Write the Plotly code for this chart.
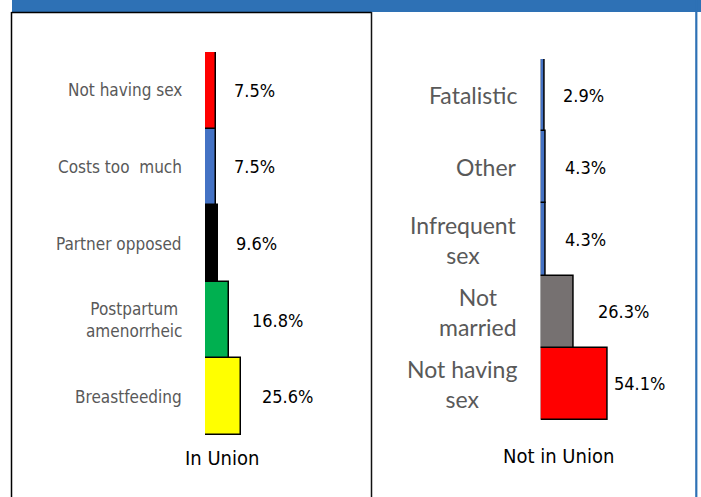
import plotly.graph_objects as go

W, H = 701, 497

# In union (bottom to top)
union_cats = ["Breastfeeding", "Postpartum<br>amenorrheic", "Partner opposed",
              "Costs too  much", "Not having sex"]
union_vals = [25.6, 16.8, 9.6, 7.5, 7.5]
union_colors = ["#FFFF00", "#00B050", "#000000", "#4472C4", "#FF0000"]
union_pad = [19, 21, 16, 16, 16]

# Not in union (bottom to top)
notunion_cats = ["Not having<br>sex", "Not<br>married", "Infrequent<br>sex",
                 "Other", "Fatalistic"]
notunion_vals = [54.1, 26.3, 4.3, 4.3, 2.9]
notunion_colors = ["#FF0000", "#767171", "#4472C4", "#4472C4", "#4472C4"]
notunion_pad = [4, 23, 17, 17, 17]


def px(x):
    return x / W


def py(y):
    return 1 - y / H


fig = go.Figure()
fig.add_trace(go.Bar(
    x=union_vals, y=union_cats, orientation="h",
    marker=dict(color=union_colors, line=dict(color="black", width=1.5)),
    xaxis="x", yaxis="y", showlegend=False, hoverinfo="x+y"))
fig.add_trace(go.Bar(
    x=notunion_vals, y=notunion_cats, orientation="h",
    marker=dict(color=notunion_colors, line=dict(color="black", width=1.5)),
    xaxis="x2", yaxis="y2", showlegend=False, hoverinfo="x+y"))

narrow = "DejaVu Sans Condensed, Roboto, sans-serif"
label_font = dict(family=narrow, size=17, color="#595959")
value_font = dict(family=narrow, size=18, color="#000000")
right_font = dict(family="Lato", size=23, color="#595959")

ann = []
for c, v, p in zip(union_cats, union_vals, union_pad):
    ann.append(dict(xref="paper", yref="y", x=px(184), y=c, text=c,
                    xanchor="right", align="center", showarrow=False, font=label_font))
    ann.append(dict(xref="x", yref="y", x=v, y=c, text=f"{v}%", xshift=p,
                    xanchor="left", showarrow=False, font=value_font))
for c, v, p in zip(notunion_cats, notunion_vals, notunion_pad):
    ann.append(dict(xref="paper", yref="y2", x=px(519), y=c, text=c,
                    xanchor="right", align="center", showarrow=False, font=right_font))
    ann.append(dict(xref="x2", yref="y2", x=v, y=c, text=f"{v}%", xshift=p,
                    xanchor="left", showarrow=False, font=value_font))

ann.append(dict(xref="paper", yref="paper", x=px(222), y=py(458), text="In Union",
                xanchor="center", yanchor="middle", showarrow=False,
                font=dict(family=narrow, size=20, color="#000")))
ann.append(dict(xref="paper", yref="paper", x=px(558), y=py(456), text="Not in Union",
                xanchor="center", yanchor="middle", showarrow=False,
                font=dict(family=narrow, size=20, color="#000")))

shapes = [
    dict(type="rect", xref="paper", yref="paper", x0=px(12), x1=1, y0=py(12), y1=1,
         fillcolor="#2E71B5", line=dict(width=0), layer="below"),
    dict(type="line", xref="paper", yref="paper", x0=px(11.5), x1=px(11.5), y0=py(12), y1=0,
         line=dict(color="#000", width=1.5)),
    dict(type="line", xref="paper", yref="paper", x0=px(11.5), x1=px(371.5), y0=py(12.5), y1=py(12.5),
         line=dict(color="#000", width=1.5)),
    dict(type="line", xref="paper", yref="paper", x0=px(371.5), x1=px(371.5), y0=py(12), y1=0,
         line=dict(color="#111", width=1.5)),
    dict(type="line", xref="paper", yref="paper", x0=px(696.3), x1=px(696.3), y0=0, y1=1,
         line=dict(color="#2E71B5", width=2.2)),
]

axis_off = dict(showgrid=False, zeroline=False, showticklabels=False, showline=False, ticks="")

fig.update_layout(
    width=W, height=H,
    margin=dict(l=0, r=0, t=0, b=0, pad=0),
    paper_bgcolor="white", plot_bgcolor="rgba(0,0,0,0)",
    bargap=0,
    xaxis=dict(domain=[px(205), px(355)], range=[0, 150 / 1.4], anchor="y", **axis_off),
    yaxis=dict(domain=[py(435), py(52)], range=[-0.5, 4.5], anchor="x", **axis_off),
    xaxis2=dict(domain=[px(540.7), px(690)], range=[0, 149.3 / 1.24], anchor="y2", **axis_off),
    yaxis2=dict(domain=[py(420), py(59)], range=[-0.5, 4.5], anchor="x2", **axis_off),
    annotations=ann,
    shapes=shapes,
)

fig.write_html("out.html", config={"displayModeBar": False},
               post_script="document.body.style.margin='0';")
